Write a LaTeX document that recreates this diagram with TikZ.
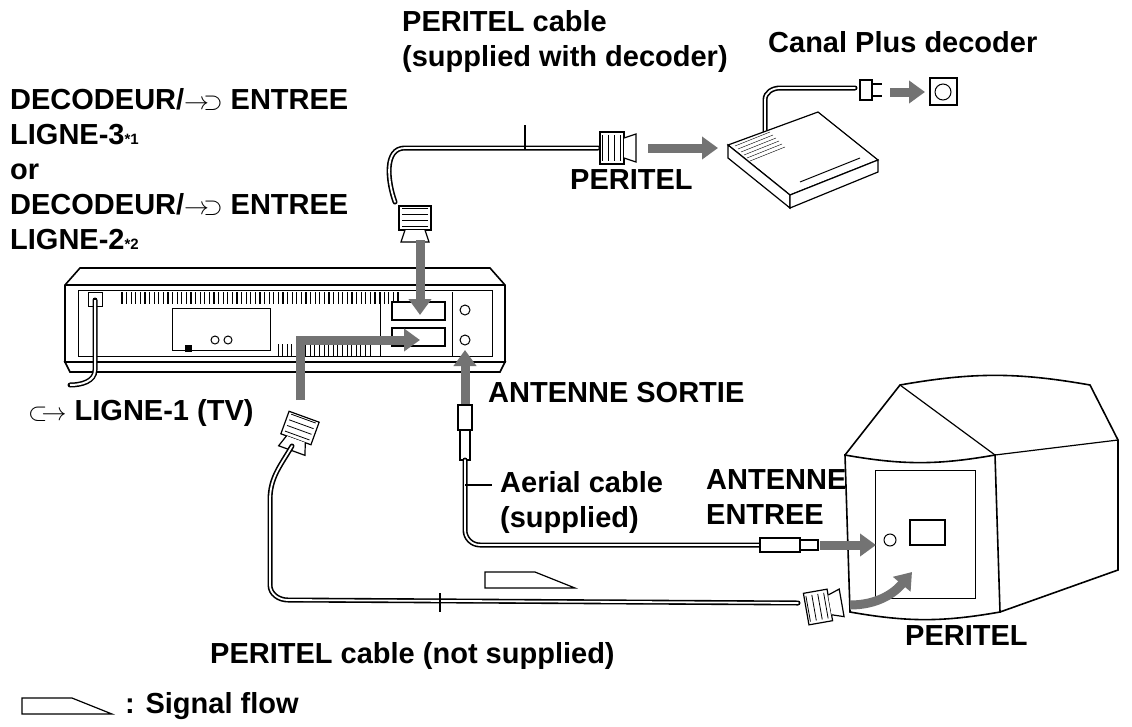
\documentclass[tikz,border=0pt]{standalone}
\usepackage{fontspec}
\setmainfont{Liberation Sans}
\usetikzlibrary{arrows.meta}
\tikzset{
  lbl/.style={font=\fontsize{29}{35}\selectfont\bfseries, inner sep=0pt, align=left},
  flow/.style={draw=black!55, line width=9pt, -{Triangle[length=16pt,width=22pt]}},
  cable/.style={line width=5pt, black, line cap=round, postaction={draw=white, line width=1.8pt}},
  part/.style={draw, line width=1.2pt, fill=white},
  hollow/.style={draw, line width=1.2pt, fill=white},
}
\newcommand{\scartplug}[3]{% position, angle, name
  \begin{scope}[shift={#1}, rotate=#2]
    \draw[part] (-16,-12) rectangle (16,12);
    \draw[part] (-10,-12) -- (-14,-24) -- (14,-24) -- (10,-12);
    \foreach \k in {-8,-2,4,10} \draw[line width=.8pt] (-13,\k) -- (13,\k);
    \coordinate (#3) at (0,0);
  \end{scope}}
\newcommand{\insym}{\mbox{$\rightarrow$\kern-.2em$\supset$}}
\begin{document}
\begin{tikzpicture}[x=1pt, y=-1pt]
  \useasboundingbox (0,0) rectangle (1132,726);
  %%%%%%%%%%%%%
  %  VCR      %
  %%%%%%%%%%%%%
  \draw[part, line width=1.6pt] (80,268) -- (490,268) -- (505,285) -- (505,362) -- (65,362) -- (65,285) -- cycle;
  \draw[line width=1.4pt] (65,285) -- (505,285);
  \draw[part, line width=1.6pt] (65,362) -- (505,362) -- (500,372) -- (70,372) -- cycle;
  \draw[line width=1pt] (78,290) rectangle (492,356);
  \foreach \i in {0,...,60} \draw[line width=1.2pt] (122+\i*4.6,292) -- (122+\i*4.6,304);
  \foreach \i in {0,...,20} \draw[line width=1pt] (278+\i*4.6,344) -- (278+\i*4.6,356);
  \draw[line width=1pt] (172,308) rectangle (270,350);
  \draw[line width=1pt] (215,340) circle (4) (228,340) circle (4);
  \draw[fill=black] (185,345) rectangle (191,351);
  \draw[line width=1pt] (380,292) -- (380,356) (452,292) -- (452,356);
  \draw[part] (392,302) rectangle (445,320);
  \draw[part] (392,328) rectangle (445,346);
  \draw[line width=1pt] (465,310) circle (5) (465,340) circle (5);
  \draw[line width=1pt] (88,292) rectangle (102,306);
  \draw[line width=5pt, line cap=round] (95,300) -- (95,370) to[out=-90,in=0] (70,385);
  \draw[line width=2pt, white] (95,300) -- (95,370) to[out=-90,in=0] (70,385);
  %%%%%%%%%%%%%%%
  %  Decoder    %
  %%%%%%%%%%%%%%%
  \draw[cable] (765,150) -- (765,100) to[out=90,in=180] (780,88) -- (855,88);
  \draw[part] (860,80) rectangle (872,100);
  \draw[line width=2pt] (872,84) -- (882,84) (872,96) -- (882,96);
  \draw[part] (930,78) rectangle (957,105);
  \draw[line width=1pt] (943,92) circle (8);
  \draw[part] (728,145) -- (818,112) -- (878,160) -- (790,195) -- cycle;
  \draw[part] (728,145) -- (790,195) -- (790,208) -- (728,158) -- cycle;
  \draw[part] (790,195) -- (878,160) -- (878,172) -- (790,208) -- cycle;
  \foreach \k in {0,...,5} \draw (735+\k*3,146+\k*3) -- (770+\k*3,132+\k*3);
  \draw[line width=1pt] (800,182) -- (860,158);
  \draw[flow] (890,92) -- (925,92);
  %%%%%%%%%%%%%%%%%%%%
  %  PERITEL cable   %
  %%%%%%%%%%%%%%%%%%%%
  \scartplug{(415,218)}{180}{vcrplug}
  \scartplug{(612,148)}{-90}{decplug}
  \draw[cable] (395,202) to[out=110,in=180] (405,148) -- (598,148);
  \draw[line width=1.2pt] (525,125) -- (525,150);
  \draw[flow] (648,148) -- (718,148);
  \draw[flow] (420,240) -- (420,315);
  %%%%%%%%%%%%%%%%%%%%
  %  TV             %
  %%%%%%%%%%%%%%%%%%%%
  \draw[part, line width=1.6pt] (845,455) -- (900,385) to[out=10,in=170] (1090,385) -- (1118,440) -- (1118,570) -- (1000,612) -- cycle;
  \draw[part, line width=1.6pt] (845,455) to[out=-10,in=190] (995,455) -- (1000,612) to[out=190,in=-10] (850,612) -- cycle;
  \draw[line width=1.2pt] (995,455) -- (1118,440) (900,385) -- (995,455);
  \draw[line width=1pt] (875,470) rectangle (975,598);
  \draw[line width=1pt] (890,540) circle (6);
  \draw[part] (910,520) rectangle (945,545);
  %%%%%%%%%%%%%%%%%%%%
  %  Aerial cable   %
  %%%%%%%%%%%%%%%%%%%%
  \draw[flow] (465,420) -- (465,350);
  \draw[part] (458,405) rectangle (472,430);
  \draw[part] (460,430) rectangle (470,460);
  \draw[cable] (465,460) -- (465,530) to[out=-90,in=180] (480,545) -- (760,545);
  \draw[line width=1.2pt] (465,485) -- (492,485);
  \draw[part] (760,538) rectangle (800,552);
  \draw[part] (800,540) rectangle (818,550);
  \draw[flow] (820,545) -- (876,545);
  %%%%%%%%%%%%%%%%%%%%
  %  TV PERITEL     %
  %%%%%%%%%%%%%%%%%%%%
  \draw[flow, -] (300,400) -- (300,340) -- (410,340);
  \draw[flow] (298,340) -- (420,340);
  \scartplug{(300,428)}{160}{tvplug}
  \scartplug{(818,607)}{-80}{tvplug2}
  \draw[cable] (292,446) to[out=240,in=90] (270,500) -- (270,585) to[out=-90,in=180] (288,600) -- (798,603);
  \draw[line width=1.2pt] (440,593) -- (440,612);
  \draw[flow] (850,605) to[out=0,in=230] (912,572);
  %%%%%%%%%%%%%%%%%%%%
  %  Signal flow    %
  %%%%%%%%%%%%%%%%%%%%
  \draw[hollow] (485,572) -- (535,572) -- (575,588) -- (485,588) -- cycle;
  \draw[hollow] (22,698) -- (72,698) -- (112,714) -- (22,714) -- cycle;
  %%%%%%%%%%%%%
  %  Labels   %
  %%%%%%%%%%%%%
  \node[lbl, anchor=north west] (decin) at (10,88) {DECODEUR/\insym{} ENTREE\\LIGNE-3{\fontsize{15}{15}\selectfont *1}\\or\\DECODEUR/\insym{} ENTREE\\LIGNE-2{\fontsize{15}{15}\selectfont *2}};
  \node[lbl, anchor=north west] (pericab) at (402,10) {PERITEL cable\\(supplied with decoder)};
  \node[lbl, anchor=west] (canal) at (768,42) {Canal Plus decoder};
  \node[lbl, anchor=west] (perdec) at (570,180) {PERITEL};
  \node[lbl, anchor=west] (antout) at (488,393) {ANTENNE SORTIE};
  \node[lbl, anchor=west] (ligne1) at (28,413) {\mbox{$\subset$\kern-.2em$\rightarrow$}\ LIGNE-1 (TV)};
  \node[lbl, anchor=west] (aerial) at (500,502) {Aerial cable\\(supplied)};
  \node[lbl, anchor=west] (antin) at (706,497) {ANTENNE\\ENTREE};
  \node[lbl, anchor=west] (pertv) at (905,636) {PERITEL};
  \node[lbl, anchor=west] (peri2) at (210,656) {PERITEL cable (not supplied)};
  \node[lbl, anchor=west] (legend) at (125,706) {: Signal flow};
\end{tikzpicture}
\end{document}
